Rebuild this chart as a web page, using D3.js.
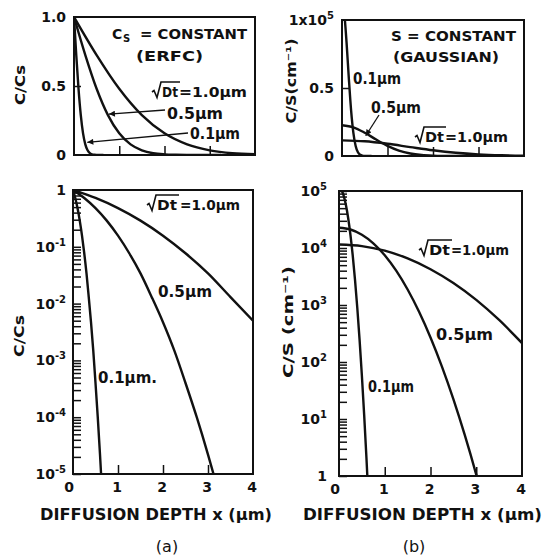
<!DOCTYPE html>
<html>
<head>
<meta charset="utf-8">
<script src="https://cdn.jsdelivr.net/npm/d3@7"></script>
<style>
  body { margin: 0; background: #fff; }
  text { font-family: "DejaVu Sans", sans-serif; fill: #111; font-weight: bold; }
</style>
</head>
<body>
<script>
// depth (µm) and normalised concentration
var depthA01 = [0, 0.05, 0.1, 0.15, 0.2, 0.25, 0.3, 0.35, 0.4, 0.45, 0.5, 0.55, 0.6, 0.65];
var erfcA01  = [1, 0.724, 0.480, 0.289, 0.157, 0.077, 0.034, 0.013, 0.0047, 0.0015, 0.0004, 0.0001, 0.000022, 0.0000043];
var depthA05 = [0, 0.25, 0.5, 0.75, 1, 1.25, 1.5, 1.75, 2, 2.25, 2.5, 2.75, 3, 3.25];
var erfcA05  = [1, 0.724, 0.480, 0.289, 0.157, 0.077, 0.034, 0.013, 0.0047, 0.0015, 0.0004, 0.0001, 0.000022, 0.0000043];
var depthA10 = [0, 0.5, 1, 1.5, 2, 2.5, 3, 3.5, 4];
var erfcA10  = [1, 0.724, 0.480, 0.289, 0.157, 0.077, 0.034, 0.013, 0.005];

// C/S in cm^-1
var depthB01 = [0, 0.05, 0.1, 0.15, 0.2, 0.25, 0.3, 0.35, 0.4, 0.45, 0.5, 0.55, 0.6, 0.65];
var gaussB01 = [113000, 104800, 83500, 57200, 33600, 17000, 7400, 2760, 886, 244, 58, 11.8, 2.07, 0.31];
var depthB05 = [0, 0.25, 0.5, 0.75, 1, 1.25, 1.5, 1.75, 2, 2.25, 2.5, 2.75, 3, 3.1];
var gaussB05 = [22600, 21100, 17100, 12100, 7470, 4000, 1870, 760, 269, 83, 22.3, 5.2, 1.06, 0.54];
var depthB10 = [0, 0.5, 1, 1.5, 2, 2.5, 3, 3.5, 4];
var gaussB10 = [11500, 10800, 8970, 6570, 4250, 2430, 1230, 546, 215];

var xTickValues = [0, 1, 2, 3, 4];
var linTicksA = [0, 0.5, 1];
var linLabelsA = ["0", "0.5", "1.0"];
var linTicksB = [0, 50000, 100000];
var linLabelsB = [["0", ""], ["0.5", ""], ["1x10", "5"]];
var logExpA = [0, -1, -2, -3, -4, -5];
var logExpB = [5, 4, 3, 2, 1, 0];

var svg = d3.select("body").append("svg").attr("width", 542).attr("height", 557);
var defs = svg.append("defs");
defs.append("marker").attr("id", "head")
  .attr("viewBox", "0 0 10 10").attr("refX", 10).attr("refY", 5)
  .attr("markerWidth", 9).attr("markerHeight", 6)
  .attr("markerUnits", "userSpaceOnUse").attr("orient", "auto")
  .append("path").attr("d", "M0,0L10,5L0,10z").attr("fill", "#111");

function makePanel(id, box, yScale) {
  var x = d3.scaleLinear().domain([0, 4]).range([box.l, box.r]);
  var y = yScale.range([box.b, box.t]);
  var g = svg.append("g");
  defs.append("clipPath").attr("id", id).append("rect")
    .attr("x", box.l).attr("y", box.t)
    .attr("width", box.r - box.l).attr("height", box.b - box.t);

  g.append("g").attr("transform", "translate(0," + box.b + ")")
    .call(d3.axisBottom(x).tickValues([1, 2, 3]).tickSize(-9).tickFormat(""))
    .call(function (a) { a.select(".domain").remove(); });

  return { id: id, g: g, x: x, y: y, box: box };
}

function finish(p) {
  p.g.append("rect")
    .attr("x", p.box.l).attr("y", p.box.t)
    .attr("width", p.box.r - p.box.l).attr("height", p.box.b - p.box.t)
    .attr("fill", "none").attr("stroke", "#111").attr("stroke-width", 2);
  p.g.selectAll(".tick line").attr("stroke", "#111").attr("stroke-width", 1.5);
}

function curve(p, xs, ys) {
  var line = d3.line()
    .x(function (d) { return p.x(d[0]); })
    .y(function (d) { return p.y(d[1]); })
    .curve(d3.curveMonotoneX);
  p.g.append("path").datum(d3.zip(xs, ys))
    .attr("clip-path", "url(#" + p.id + ")")
    .attr("fill", "none").attr("stroke", "#111")
    .attr("stroke-width", 2.4).attr("stroke-linejoin", "round")
    .attr("d", line);
}

function yLabel(p, v, base, sup, xr) {
  var t = p.g.append("text").attr("x", xr).attr("y", p.y(v) + 5)
    .attr("text-anchor", "end").style("font-size", "14px");
  t.append("tspan").text(base);
  if (sup) t.append("tspan").attr("dy", -6).style("font-size", "10px").text(sup);
}

function xLabels(p) {
  xTickValues.forEach(function (v) {
    p.g.append("text").attr("x", p.x(v) - (v === 0 ? 4 : 1)).attr("y", p.box.b + 18)
      .attr("text-anchor", "middle").style("font-size", "14px")
      .text(v);
  });
}

function txt(g, x, y, s, len, size) {
  var t = g.append("text").attr("x", x).attr("y", y)
    .style("font-size", (size || 14) + "px").text(s);
  if (len) t.attr("textLength", len).attr("lengthAdjust", "spacingAndGlyphs");
  return t;
}

// √Dt = ... label: radical drawn as a stroke, overline over "Dt"
function rootLabel(g, x, y, dtW, restX, rest, restLen) {
  g.append("path")
    .attr("d", "M" + x + "," + (y - 5) + "l2,-1.5l3,7l4,-15.5h" + (dtW + 3))
    .attr("fill", "none").attr("stroke", "#111").attr("stroke-width", 1.6);
  txt(g, x + 10, y, "Dt", dtW, 14);
  txt(g, restX, y, rest, restLen, 14);
}

function yTitle(x, cy, s, len) {
  svg.append("text").attr("transform", "translate(" + x + "," + cy + ") rotate(-90)")
    .attr("text-anchor", "middle").style("font-size", "14px")
    .attr("textLength", len).attr("lengthAdjust", "spacingAndGlyphs").text(s);
}

function arrow(g, x0, y0, x1, y1) {
  g.append("line").attr("x1", x0).attr("y1", y0).attr("x2", x1).attr("y2", y1)
    .attr("stroke", "#111").attr("stroke-width", 1.3).attr("marker-end", "url(#head)");
}

// ---- (a) linear ----
var pA = makePanel("cA", { l: 74, r: 255, t: 17, b: 155 }, d3.scaleLinear().domain([0, 1]));
pA.g.append("g").attr("transform", "translate(" + pA.box.l + ",0)")
  .call(d3.axisLeft(pA.y).tickValues([0.5]).tickSize(-7).tickFormat(""))
  .call(function (a) { a.select(".domain").remove(); });
curve(pA, depthA01, erfcA01);
curve(pA, depthA05, erfcA05);
curve(pA, depthA10, erfcA10);
finish(pA);
linTicksA.forEach(function (v, i) { yLabel(pA, v, linLabelsA[i], "", 66); });
txt(pA.g, 112, 39, "C", 0, 14);
txt(pA.g, 123, 42, "S", 0, 10);
txt(pA.g, 140, 39, "= CONSTANT", 107, 14);
txt(pA.g, 136, 61, "(ERFC)", 67, 14);
rootLabel(pA.g, 152, 97, 16, 179, "=1.0µm", 68);
txt(pA.g, 167, 119, "0.5µm", 56, 15);
txt(pA.g, 190, 139, "0.1µm", 50, 15);
arrow(pA.g, 165, 110, pA.x(depthA05[3]) + 1, pA.y(erfcA05[3]) - 1);
arrow(pA.g, 188, 133, pA.x(depthA01[5]) + 2, pA.y(erfcA01[5]) - 2);
yTitle(25, 85, "C/Cs", 40);

// ---- (b) linear ----
var pB = makePanel("cB", { l: 342, r: 524, t: 20, b: 156 }, d3.scaleLinear().domain([0, 100000]));
pB.g.append("g").attr("transform", "translate(" + pB.box.l + ",0)")
  .call(d3.axisLeft(pB.y).tickValues([50000]).tickSize(-7).tickFormat(""))
  .call(function (a) { a.select(".domain").remove(); });
curve(pB, depthB01, gaussB01);
curve(pB, depthB05, gaussB05);
curve(pB, depthB10, gaussB10);
finish(pB);
linTicksB.forEach(function (v, i) { yLabel(pB, v, linLabelsB[i][0], linLabelsB[i][1], 334); });
txt(pB.g, 391, 41, "S = CONSTANT", 125, 14);
txt(pB.g, 393, 62, "(GAUSSIAN)", 106, 14);
txt(pB.g, 353, 84, "0.1µm", 48, 15);
txt(pB.g, 371, 113, "0.5µm", 50, 15);
rootLabel(pB.g, 415, 142, 19, 445, "=1.0µm", 63);
arrow(pB.g, 379, 115, pB.x(depthB05[2]) + 1, pB.y(gaussB05[2]) + 3);
yTitle(296, 81, "C/S(cm⁻¹)", 85);

// ---- (a) log ----
var pC = makePanel("cC", { l: 73, r: 253, t: 190, b: 474 }, d3.scaleLog().domain([1e-5, 1]));
pC.g.append("g").attr("transform", "translate(" + pC.box.l + ",0)")
  .call(d3.axisLeft(pC.y).tickValues(pC.y.ticks()).tickSize(-8).tickFormat(""))
  .call(function (a) { a.select(".domain").remove(); });
curve(pC, depthA01, erfcA01);
curve(pC, depthA05, erfcA05);
curve(pC, depthA10, erfcA10);
finish(pC);
logExpA.forEach(function (e) {
  yLabel(pC, Math.pow(10, e), e === 0 ? "1" : "10", e === 0 ? "" : String(e), 66);
});
xLabels(pC);
rootLabel(pC.g, 147, 210, 20, 180, "=1.0µm", 60);
txt(pC.g, 158, 297, "0.5µm", 54, 15);
txt(pC.g, 98, 383, "0.1µm.", 59, 15);
yTitle(24, 336, "C/Cs", 42);

// ---- (b) log ----
var pD = makePanel("cD", { l: 339, r: 522, t: 191, b: 476 }, d3.scaleLog().domain([1, 1e5]));
pD.g.append("g").attr("transform", "translate(" + pD.box.l + ",0)")
  .call(d3.axisLeft(pD.y).tickValues(pD.y.ticks()).tickSize(-8).tickFormat(""))
  .call(function (a) { a.select(".domain").remove(); });
curve(pD, depthB01, gaussB01);
curve(pD, depthB05, gaussB05);
curve(pD, depthB10, gaussB10);
finish(pD);
logExpB.forEach(function (e) {
  yLabel(pD, Math.pow(10, e), e === 0 ? "1" : "10", e === 0 ? "" : String(e), 327);
});
xLabels(pD);
rootLabel(pD.g, 419, 255, 21, 451, "=1.0µm", 58);
txt(pD.g, 436, 340, "0.5µm", 57, 15);
txt(pD.g, 368, 392, "0.1µm", 46, 15);
yTitle(293, 322, "C/S (cm⁻¹)", 112);

// ---- bottom titles ----
txt(svg, 40, 520, "DIFFUSION DEPTH x (µm)", 232, 15);
txt(svg, 303, 520, "DIFFUSION DEPTH x (µm)", 239, 15);
svg.append("text").attr("x", 167).attr("y", 552).attr("text-anchor", "middle").style("font-size", "16px").style("font-weight", "normal").text("(a)");
svg.append("text").attr("x", 414).attr("y", 552).attr("text-anchor", "middle").style("font-size", "16px").style("font-weight", "normal").text("(b)");
</script>
</body>
</html>
